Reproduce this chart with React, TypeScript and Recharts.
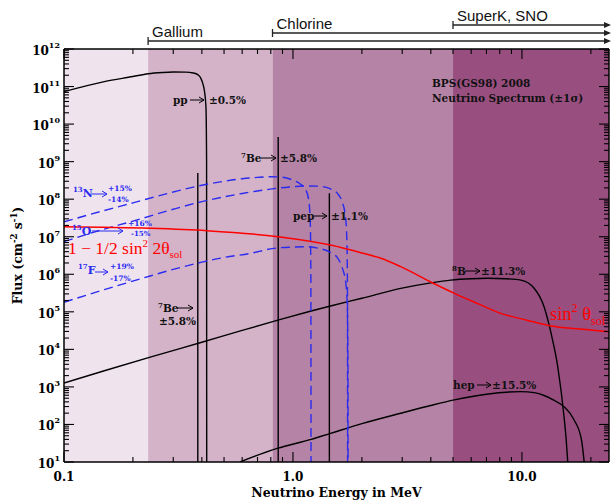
import React from 'react';
import { ComposedChart, Line, XAxis, YAxis, ReferenceArea, ReferenceLine } from 'recharts';

// Continuum spectra: energy (MeV) and flux (cm^-2 s^-1 MeV^-1)
const ppE = [0.1, 0.15, 0.2, 0.233, 0.27, 0.3, 0.34, 0.367, 0.385, 0.394, 0.403, 0.41, 0.4168, 0.4195, 0.42];
const ppF = [7.3e10, 1.35e11, 1.85e11, 2.2e11, 2.37e11, 2.43e11, 2.42e11, 2.3e11, 2.05e11, 1.76e11, 1.25e11, 8.1e10, 2.9e10, 1e9, 10];

const n13E = [0.1, 0.15, 0.2, 0.3, 0.4, 0.5, 0.6, 0.7, 0.8, 0.9, 1.0, 1.08, 1.13, 1.17, 1.19, 1.197, 1.199];
const n13F = [2.5e7, 5.0e7, 8.0e7, 1.55e8, 2.35e8, 3.0e8, 3.5e8, 3.8e8, 3.95e8, 3.85e8, 3.2e8, 2.5e8, 1.9e8, 1.0e8, 2.5e7, 1e6, 10];

const o15E = [0.1, 0.15, 0.2, 0.3, 0.4, 0.5, 0.6, 0.7, 0.85, 1.0, 1.15, 1.3, 1.45, 1.56, 1.64, 1.69, 1.72, 1.73, 1.732];
const o15F = [7.4e6, 1.6e7, 2.6e7, 5.4e7, 8.6e7, 1.15e8, 1.42e8, 1.65e8, 1.95e8, 2.15e8, 2.25e8, 2.22e8, 1.9e8, 1.45e8, 8.5e7, 4e7, 8e6, 3e5, 10];

const f17E = [0.1, 0.15, 0.238, 0.3, 0.4, 0.5, 0.652, 0.824, 1.0, 1.15, 1.3, 1.45, 1.56, 1.64, 1.7, 1.73, 1.739, 1.74];
const f17F = [1.8e5, 3.9e5, 9.0e5, 1.35e6, 2.1e6, 2.8e6, 3.6e6, 4.9e6, 5.3e6, 5.4e6, 4.9e6, 3.9e6, 2.8e6, 1.5e6, 6e5, 1e5, 1e3, 10];

const b8E = [0.1, 0.15, 0.238, 0.4, 0.6, 0.867, 1.2, 1.459, 2.0, 2.955, 4.0, 4.89, 6.0, 7.08, 8.5, 9.9, 11.28, 12.49, 13.4, 14.33, 15.27, 15.6, 15.85];
const b8F = [1.27e3, 2.7e3, 6.2e3, 1.55e4, 3.2e4, 6.1e4, 1.05e5, 1.43e5, 2.3e5, 4.2e5, 5.9e5, 7.0e5, 7.6e5, 7.8e5, 7.6e5, 7.0e5, 4.3e5, 1.37e5, 2.7e4, 3.5e3, 160, 40, 10];

const hepE = [0.587, 0.853, 1.2, 1.459, 2.0, 2.955, 4.0, 5.07, 7.0, 9.9, 11.3, 12.5, 13.7, 15.27, 16.9, 18.2, 18.7];
const hepF = [10, 23, 40, 58, 105, 199, 320, 450, 640, 748, 703, 590, 450, 298, 132, 39, 10];

// survival probability curve, drawn on the flux scale
const survE = [0.1, 0.238, 0.421, 0.862, 1.459, 2.0, 2.42, 2.955, 4.1, 5.07, 6.5, 8.08, 10.5, 13.4, 18, 24];
const survF = [1.85e7, 1.68e7, 1.45e7, 1.0e7, 6.0e6, 3.7e6, 2.67e6, 1.6e6, 5.75e5, 3.1e5, 1.6e5, 9.1e4, 6.0e4, 4.2e4, 3.5e4, 2.96e4];

// line sources: energy (MeV) and flux (cm^-2 s^-1)
const lineE = [0.384, 0.862, 1.442];
const lineF = [5.0e8, 4.5e9, 1.44e8];

// detector thresholds (MeV) and background bands
const thrE = [0.233, 0.814, 5.0];
const thrNames = ['Gallium', 'Chlorine', 'SuperK, SNO'];
const bandEdges = [0.1, 0.233, 0.814, 5.0, 24];
const bandColors = ['#efe4ee', '#d4b3c9', '#b583a5', '#984f80'];

const xTicks = [0.1, 0.2, 0.3, 0.4, 0.5, 0.6, 0.7, 0.8, 0.9, 1, 2, 3, 4, 5, 6, 7, 8, 9, 10, 20];
const yTicks: number[] = [];
for (let n = 1; n <= 11; n++) for (let k = 1; k <= 9; k++) yTicks.push(k * Math.pow(10, n));
yTicks.push(1e12);

const zip = (e: number[], f: number[]) => e.map((v, i) => ({ e: v, f: f[i] }));
const isDecade = (v: number) => Math.abs(Math.log10(v) - Math.round(Math.log10(v))) < 1e-6;

const SERIF = 'DejaVu Serif';
const BLUE = '#2a2af0';
const RED = '#ff0000';
const TICK = '#000';
const MARGIN = { top: 48, right: 1, bottom: 8, left: 4 };
const X_DOMAIN: [number, number] = [0.1, 24];
const Y_DOMAIN: [number, number] = [10, 1e12];

const BottomTick = ({ x, y, payload }: any) => {
  const major = isDecade(payload.value);
  return (
    <g>
      <path d={`M${x} ${y}V${y - (major ? 10 : 5)}`} stroke={TICK} strokeWidth={1.1} />
      {major && (
        <text x={x} y={y + 19} textAnchor="middle" fontFamily={SERIF} fontWeight={700} fontSize={12} fill="#000">
          {payload.value.toFixed(1)}
        </text>
      )}
    </g>
  );
};

const TopTick = ({ x, y, payload }: any) => {
  const major = isDecade(payload.value);
  return <path d={`M${x} ${y}V${y + (major ? 10 : 5)}`} stroke={TICK} strokeWidth={1.1} />;
};

const LeftTick = ({ x, y, payload }: any) => {
  const major = isDecade(payload.value);
  const n = Math.round(Math.log10(payload.value));
  return (
    <g>
      <path d={`M${x} ${y}H${x + (major ? 10 : 5)}`} stroke={TICK} strokeWidth={1.1} />
      {major && (
        <text x={x - 4} y={y + 6} textAnchor="end" fontFamily={SERIF} fontWeight={700} fill="#000">
          <tspan fontSize={12}>10</tspan>
          <tspan fontSize={8} dy={-7}>{n}</tspan>
        </text>
      )}
    </g>
  );
};

const RightTick = ({ x, y, payload }: any) => {
  const major = isDecade(payload.value);
  return <path d={`M${x} ${y}H${x - (major ? 10 : 5)}`} stroke={TICK} strokeWidth={1.1} />;
};

// threshold marker above the frame: start bar, arrow to the right edge, name
const Threshold = (props: any) => {
  const { x1, x2, y1, lift, name } = props;
  const y = y1 - lift;
  return (
    <g>
      <line x1={x1} x2={x2} y1={y} y2={y} stroke="#222" strokeWidth={1.3} />
      <line x1={x1} x2={x1} y1={y - 4} y2={y + 4} stroke="#222" strokeWidth={1.3} />
      <path d={`M${x2 + 2} ${y}L${x2 - 5} ${y - 3}L${x2 - 5} ${y + 3}Z`} fill="#222" />
      <text x={x1 + 4} y={y - 4} fontFamily="Liberation Sans" fontSize={15} fill="#111">
        {name}
      </text>
    </g>
  );
};

const Arrow = ({ x1, x2, y, c = '#000', w = 1 }: any) => (
  <path d={`M${x1} ${y}H${x2}M${x2 - 5} ${y - 3}L${x2} ${y}L${x2 - 5} ${y + 3}`} stroke={c} strokeWidth={w} fill="none" />
);

const Lbl = ({ x, y, size = 10.5, c = '#111', children, anchor = 'start' }: any) => (
  <text x={x} y={y} fontFamily={SERIF} fontWeight={700} fontSize={size} fill={c} textAnchor={anchor}>
    {children}
  </text>
);

const curves = [
  { d: zip(ppE, ppF), c: '#000', dash: undefined },
  { d: zip(b8E, b8F), c: '#000', dash: undefined },
  { d: zip(hepE, hepF), c: '#000', dash: undefined },
  { d: zip(n13E, n13F), c: BLUE, dash: '9 5' },
  { d: zip(o15E, o15F), c: BLUE, dash: '9 5' },
  { d: zip(f17E, f17F), c: BLUE, dash: '9 5' },
];

// four axes framing the plot; `frame` draws ticks and labels, otherwise only the scales are set up
const axes = (frame: boolean) => {
  const line = frame ? { stroke: '#000', strokeWidth: 1.5 } : false;
  const common = { type: 'number' as const, scale: 'log' as const, allowDataOverflow: true, interval: 0,
    tickSize: 0, tickMargin: 0, tickLine: false, axisLine: line };
  return [
    <XAxis key="xb" dataKey="e" domain={X_DOMAIN} ticks={xTicks} height={30} tick={frame ? BottomTick : false} {...common} />,
    <XAxis key="xt" xAxisId="top" orientation="top" dataKey="e" domain={X_DOMAIN} ticks={xTicks} height={1}
      tick={frame ? TopTick : false} {...common} />,
    <YAxis key="yl" domain={Y_DOMAIN} ticks={yTicks} width={60} tick={frame ? LeftTick : false} {...common} />,
    <YAxis key="yr" yAxisId="right" orientation="right" domain={Y_DOMAIN} ticks={yTicks} width={1}
      tick={frame ? RightTick : false} {...common} />,
  ];
};

const App: React.FC = () => {
  return (
    <div style={{ position: 'absolute', left: 0, top: 0, width: 611, height: 500, background: '#fff' }}>
      <ComposedChart width={611} height={500} margin={MARGIN}>
        {axes(false)}
        {bandColors.map((c, i) => (
          <ReferenceArea key={c} x1={bandEdges[i]} x2={bandEdges[i + 1]} fill={c} fillOpacity={1} stroke="none" />
        ))}

        {lineE.map((e, i) => (
          <Line key={'l' + e} data={[{ e, f: 10 }, { e, f: lineF[i] }]} dataKey="f" type="linear"
            stroke="#000" strokeWidth={1.4} dot={false} isAnimationActive={false} />
        ))}
        {curves.map((s, i) => (
          <Line key={'c' + i} data={s.d} dataKey="f" type="monotone" stroke={s.c} strokeWidth={1.4}
            strokeDasharray={s.dash} dot={false} isAnimationActive={false} />
        ))}
        <Line data={zip(survE, survF)} dataKey="f" type="monotone" stroke={RED} strokeWidth={1.5}
          dot={false} isAnimationActive={false} />

        {thrE.map((e, i) => (
          <ReferenceLine key={'t' + e} segment={[{ x: e, y: 1e12 }, { x: 24, y: 1e12 }]} ifOverflow="visible"
            shape={(p: any) => <Threshold {...p} lift={8 + 8 * i} name={thrNames[i]} />} />
        ))}
      </ComposedChart>

      {/* axis frame on top of the shaded bands */}
      <div style={{ position: 'absolute', left: 0, top: 0, zIndex: 2, pointerEvents: 'none' }}>
        <ComposedChart width={611} height={500} margin={MARGIN}>
          {axes(true)}
        </ComposedChart>
      </div>

      <svg width={611} height={500} style={{ position: 'absolute', left: 0, top: 0, zIndex: 3, pointerEvents: 'none' }}>
        <text transform="translate(22,255.5) rotate(-90)" textAnchor="middle" fontFamily={SERIF} fontWeight={700}
          fontSize={12.5} fill="#000">
          Flux (cm<tspan fontSize={8.5} dy={-5}>-2</tspan><tspan dy={5}> s</tspan>
          <tspan fontSize={8.5} dy={-5}>-1</tspan><tspan dy={5}>)</tspan>
        </text>
        <text x={336.5} y={497} textAnchor="middle" fontFamily={SERIF} fontWeight={700} fontSize={12.5} fill="#000">
          Neutrino Energy in MeV
        </text>

        <Lbl x={432} y={87}>BPS(GS98) 2008</Lbl>
        <Lbl x={432} y={102}>Neutrino Spectrum (±1σ)</Lbl>

        <Lbl x={173} y={104}>pp</Lbl>
        <Arrow x1={190} x2={204} y={100} />
        <Lbl x={209} y={104}>±0.5%</Lbl>

        <Lbl x={241} y={162}><tspan fontSize={7} dy={-4}>7</tspan><tspan dy={4}>Be</tspan></Lbl>
        <Arrow x1={261} x2={276} y={158} />
        <Lbl x={280} y={162}>±5.8%</Lbl>

        <Lbl x={293} y={220}>pep</Lbl>
        <Arrow x1={314} x2={327} y={216} />
        <Lbl x={331} y={220}>±1.1%</Lbl>

        <Lbl x={158} y={312}><tspan fontSize={7} dy={-4}>7</tspan><tspan dy={4}>Be</tspan></Lbl>
        <Arrow x1={177} x2={193} y={308} />
        <Lbl x={159} y={325}>±5.8%</Lbl>

        <Lbl x={452} y={275}><tspan fontSize={7} dy={-4}>8</tspan><tspan dy={4}>B</tspan></Lbl>
        <Arrow x1={465} x2={480} y={271} />
        <Lbl x={481} y={275}>±11.3%</Lbl>

        <Lbl x={453} y={389}>hep</Lbl>
        <Arrow x1={477} x2={491} y={385} />
        <Lbl x={492} y={389}>±15.5%</Lbl>

        <Lbl x={73} y={197} size={11} c={BLUE}><tspan fontSize={7} dy={-5}>13</tspan><tspan dy={5}>N</tspan></Lbl>
        <Arrow x1={92} x2={107} y={194} c={BLUE} />
        <Lbl x={108} y={191} size={7.5} c={BLUE}>+15%</Lbl>
        <Lbl x={108} y={202} size={7.5} c={BLUE}>-14%</Lbl>

        <Lbl x={72} y={235} size={11} c={BLUE}><tspan fontSize={7} dy={-5}>15</tspan><tspan dy={5}>O</tspan></Lbl>
        <Arrow x1={92} x2={123} y={231} c={BLUE} />
        <Lbl x={128} y={226} size={7.5} c={BLUE}>+16%</Lbl>
        <Lbl x={131} y={235.5} size={7} c={BLUE}>-15%</Lbl>

        <Lbl x={78} y={274} size={11} c={BLUE}><tspan fontSize={7} dy={-5}>17</tspan><tspan dy={5}>F</tspan></Lbl>
        <Arrow x1={95} x2={108} y={272} c={BLUE} />
        <Lbl x={110} y={269} size={7.5} c={BLUE}>+19%</Lbl>
        <Lbl x={110} y={281} size={7.5} c={BLUE}>-17%</Lbl>

        <text x={68} y={254} fontFamily="Liberation Serif" fontSize={17.5} fill={RED}>
          1 − 1/2 sin<tspan fontSize={11} dy={-7}>2</tspan><tspan dy={7}> 2θ</tspan>
          <tspan fontSize={11} dy={4}>sol</tspan>
        </text>
        <text x={550} y={320} fontFamily="Liberation Serif" fontSize={18.5} fill={RED}>
          sin<tspan fontSize={12} dy={-8}>2</tspan><tspan dy={8}> θ</tspan>
          <tspan fontSize={12} dy={5}>sol</tspan>
        </text>
      </svg>
    </div>
  );
};

export default App;
